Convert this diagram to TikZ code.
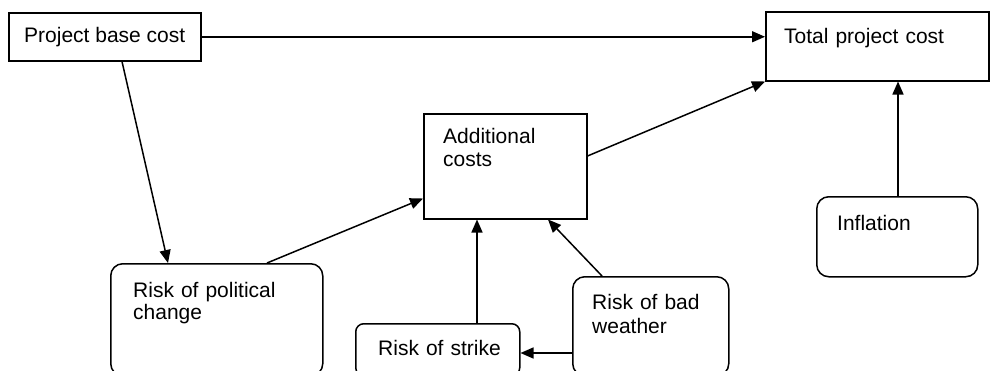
\documentclass[tikz,border=0pt]{standalone}
\usepackage{fontspec}
\setmainfont{Liberation Sans}
\usetikzlibrary{arrows.meta,calc}

\begin{document}
\begin{tikzpicture}[x=1pt,y=-1pt,
  every node/.style={font=\fontsize{21}{23}\selectfont},
  box/.style={draw, line width=1.5pt, inner sep=0pt, anchor=north west},
  rbox/.style={box, rounded corners=12pt},
  txt/.style={inner sep=0pt, anchor=base west, text width=170pt, align=left},
  link/.style={line width=1.5pt, -{Triangle[length=13pt,width=11pt]}}]

\useasboundingbox (0,0) rectangle (995,370);
\clip (0,0) rectangle (995,370);

% boxes
\node[box, minimum width=192pt, minimum height=48pt] (base) at (8,12) {Project base cost};
\node[box, minimum width=223pt, minimum height=69pt] (total) at (765,11) {};
\node[box, minimum width=163pt, minimum height=105pt] (add) at (423,113) {};
\node[rbox, minimum width=212pt, minimum height=112pt] (pol) at (110,263) {};
\node[box, rounded corners=8pt, minimum width=164pt, minimum height=52pt] (strike) at (355,323) {};
\node[rbox, minimum width=156pt, minimum height=99pt] (weather) at (572,276) {};
\node[rbox, minimum width=161pt, minimum height=80pt] (infl) at (816,196) {};

% labels
\node[txt] (totalt) at (784,43) {Total project cost};
\node[txt] (addt) at (443,143) {Additional\\costs};
\node[txt, font=\fontsize{21}{22}\selectfont] (polt) at (133,297) {Risk of political\\change};
\node[txt] (striket) at (378,355) {Risk of strike};
\node[txt, font=\fontsize{21}{24}\selectfont] (weathert) at (592,309) {Risk of bad\\weather};
\node[txt] (inflt) at (837,230) {Inflation};

% connection points
\coordinate (b1) at ($(base.south west)+(114,0)$);
\coordinate (p1) at ($(pol.north west)+(58,0)$);
\coordinate (p2) at ($(pol.north west)+(157,0)$);
\coordinate (a1) at ($(add.south west)+(0,-21)$);
\coordinate (a2) at ($(add.north east)+(0,43)$);
\coordinate (a3) at ($(add.south west)+(125,0)$);
\coordinate (i1) at ($(infl.north west)+(82,0)$);
\coordinate (s1) at ($(strike.north west)+(122,0)$);
\coordinate (w1) at ($(weather.north west)+(30,0)$);
\coordinate (w2) at ($(weather.north west)+(0,77)$);

% connectors
\draw[link] (base.east) -- (base.east -| total.west);
\draw[link] (b1) -- (p1);
\draw[link] (p2) -- (a1);
\draw[link] (a2) -- (total.south west);
\draw[link] (i1) -- (i1 |- total.south);
\draw[link] (s1) -- (s1 |- add.south);
\draw[link] (w1) -- (a3);
\draw[link] (w2) -- (w2 -| strike.east);
\end{tikzpicture}
\end{document}
